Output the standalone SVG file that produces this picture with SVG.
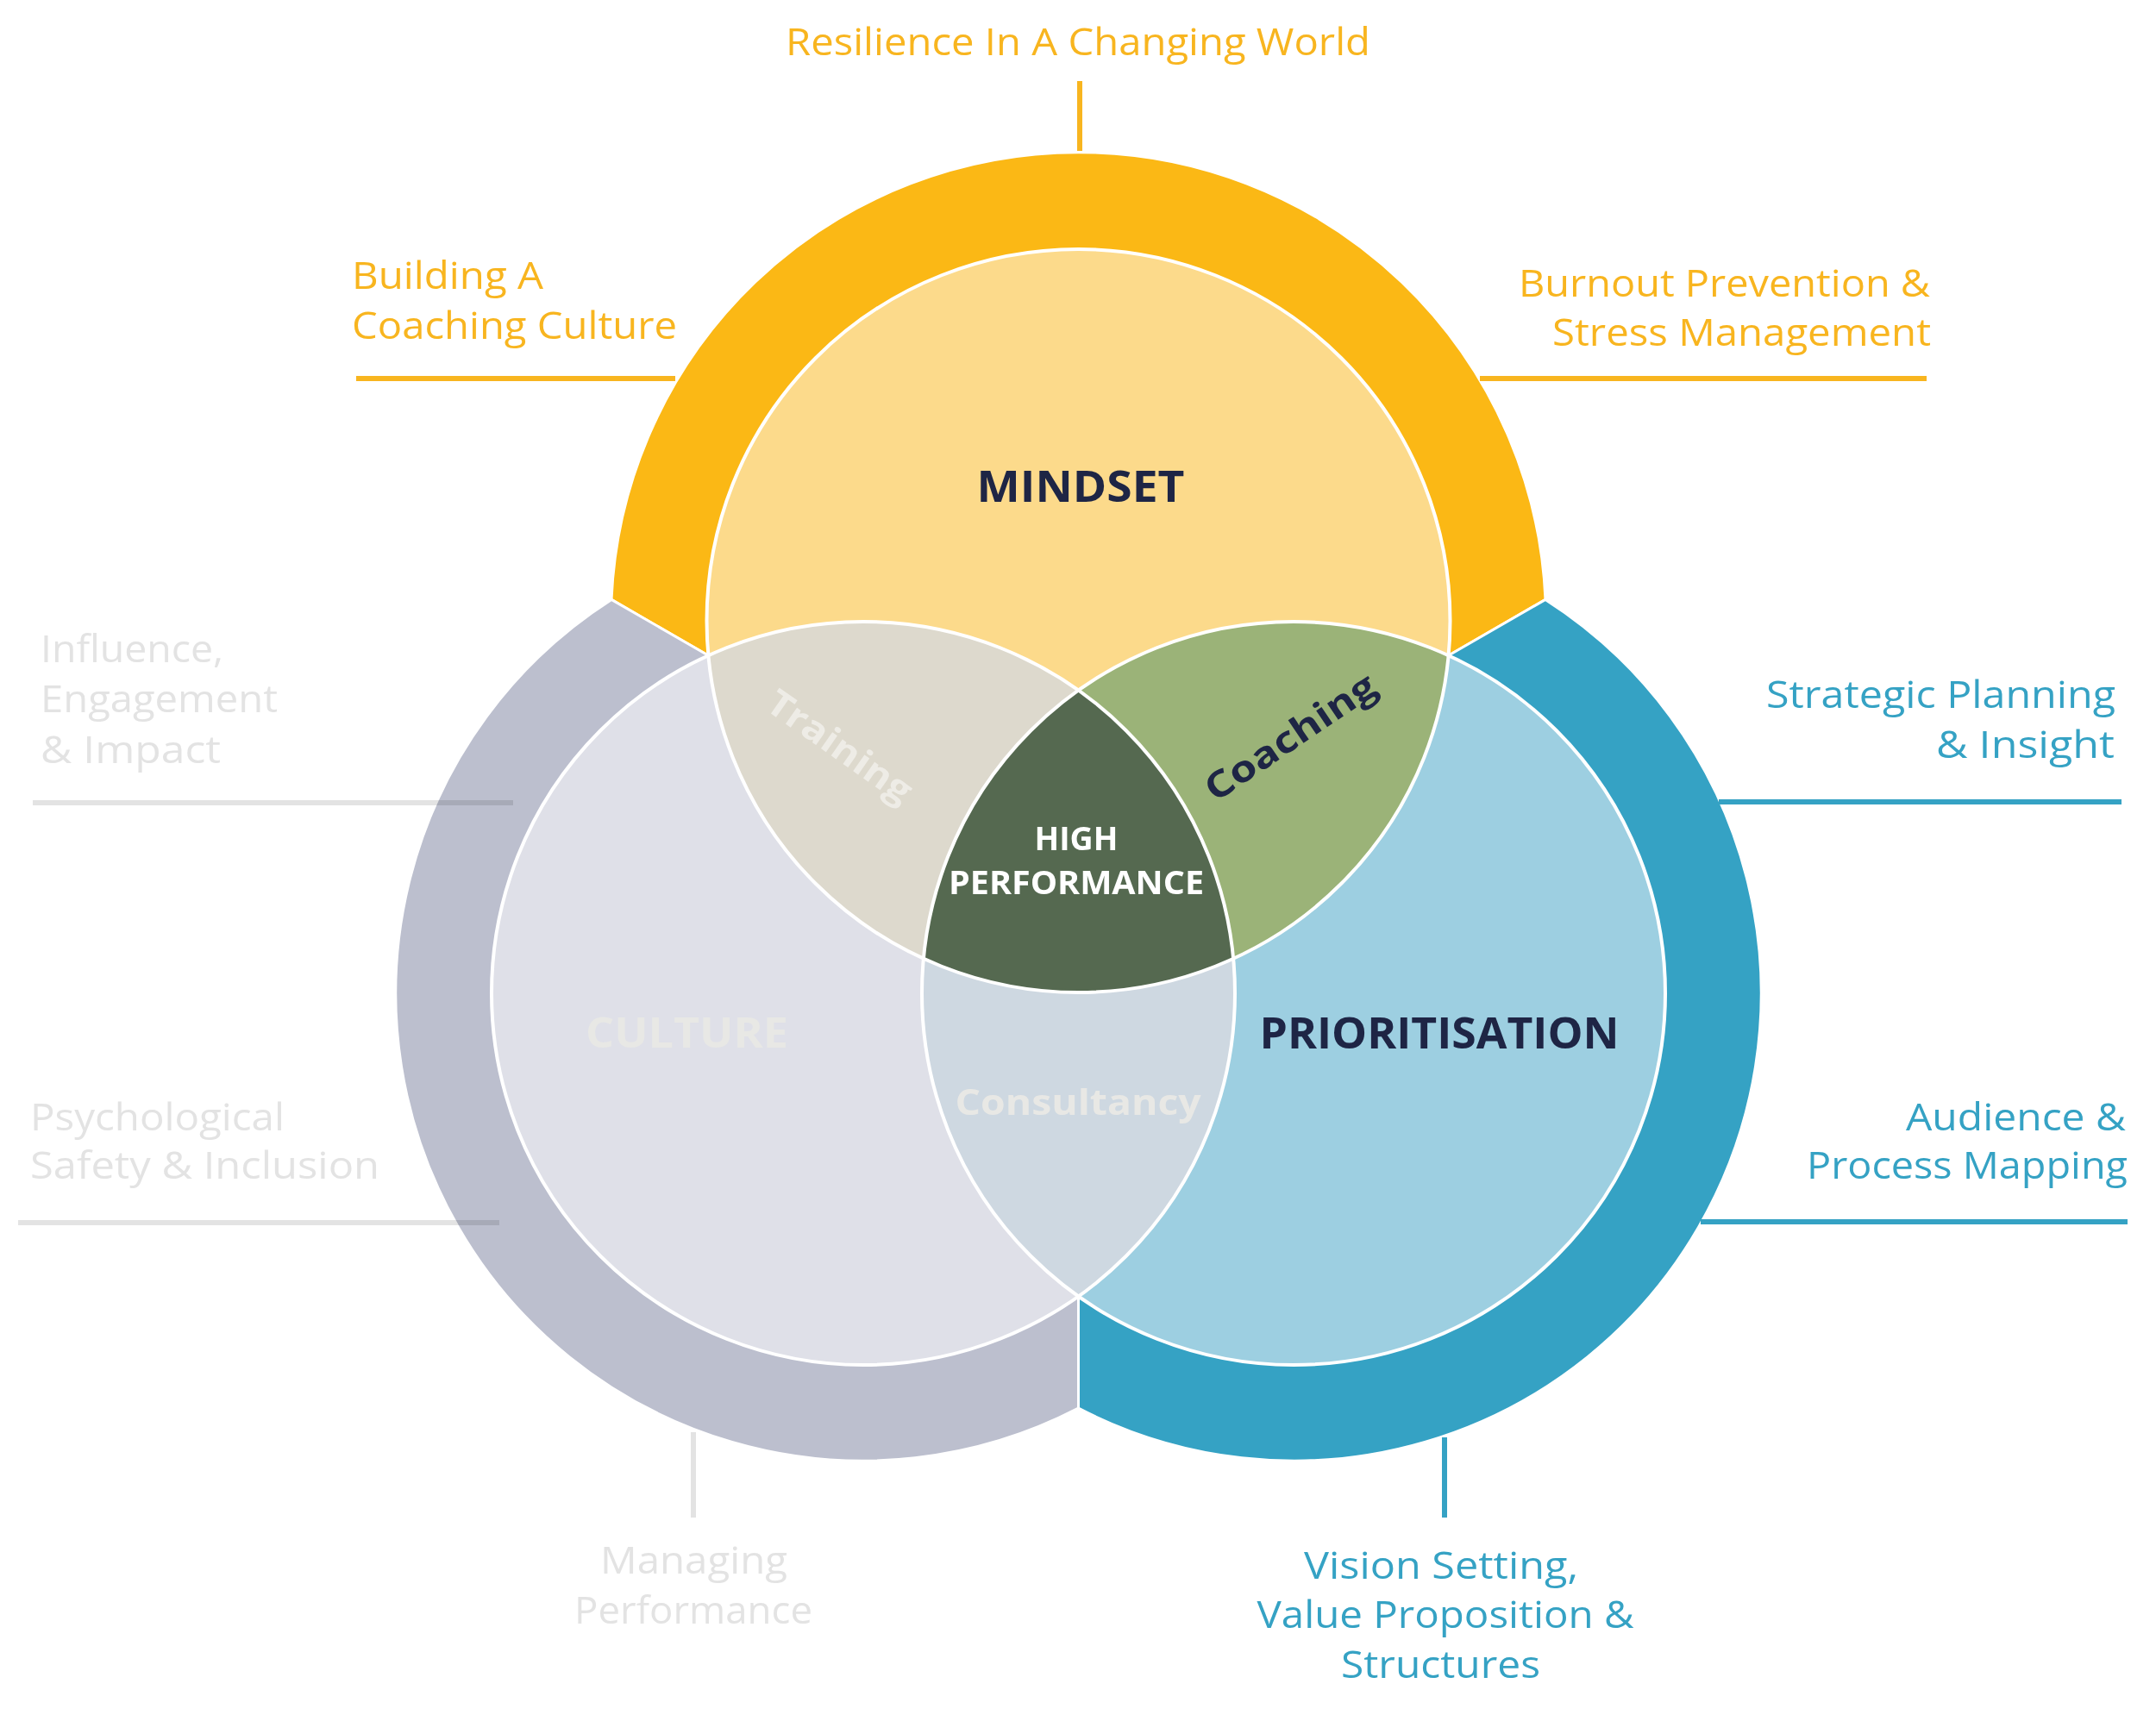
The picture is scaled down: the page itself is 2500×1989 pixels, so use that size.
<svg xmlns="http://www.w3.org/2000/svg" width="2500" height="1989" viewBox="0 0 2500 1989">
  <style>
    .lbl { font-family: "Open Sans", "Liberation Sans", sans-serif; font-size: 44px; font-weight: 400; }
    .or { fill: #F8B51F; }
    .bl { fill: #35A2C4; }
    .gr { fill: #E3E3E3; }
    .big { font-family: "Open Sans", "Liberation Sans", sans-serif; font-weight: 700; }
    .navy { fill: #1E2545; }
    .ring { stroke: #FFFFFF; stroke-width: 3; stroke-linejoin: round; }
    .inner-stroke { fill: none; stroke: #FFFFFF; stroke-width: 4; }
    .ln { stroke-width: 6; fill: none; }
  </style>
  <defs>
    <clipPath id="clipM"><circle cx="1250.5" cy="720" r="431"/></clipPath>
    <clipPath id="clipC"><circle cx="1001" cy="1152" r="431"/></clipPath>
    <clipPath id="clipP"><circle cx="1500" cy="1152" r="431"/></clipPath>
  </defs>
  <rect x="0" y="0" width="2500" height="1989" fill="#FFFFFF"/>

  <!-- outer rings -->
  <g id="ring-mindset">
    <path class="ring" fill="#FBB815" d="M709,695.4 A542,542 0 0 1 1792,695.4 L1679.6,760.2 L1250.5,720 L821.4,760.2 Z"/>
  </g>
  <g id="ring-culture">
    <path class="ring" fill="#BCBFCE" d="M709,695.4 A542,542 0 0 0 1250.5,1633.2 L1250.5,1503.5 L1001,1152 L821.4,760.2 Z"/>
  </g>
  <g id="ring-prioritisation">
    <path class="ring" fill="#35A2C4" d="M1792,695.4 A542,542 0 0 1 1250.5,1633.2 L1250.5,1503.5 L1500,1152 L1679.6,760.2 Z"/>
  </g>

  <!-- connectors -->
  <g id="connectors">
    <line class="ln" stroke="#F8B51F" x1="1252" y1="94" x2="1252" y2="175"/>
    <line class="ln" stroke="#F8B51F" x1="413" y1="439" x2="783" y2="439"/>
    <line class="ln" stroke="#F8B51F" x1="1716" y1="439" x2="2234" y2="439"/>
    <line class="ln" stroke="#35A2C4" x1="1993" y1="930" x2="2460" y2="930"/>
    <line class="ln" stroke="#35A2C4" x1="1972" y1="1417" x2="2467" y2="1417"/>
    <line class="ln" stroke="#35A2C4" x1="1675" y1="1667" x2="1675" y2="1760"/>
    <line class="ln" stroke="#E3E3E3" style="mix-blend-mode:multiply" x1="38" y1="931" x2="595" y2="931"/>
    <line class="ln" stroke="#E3E3E3" style="mix-blend-mode:multiply" x1="21" y1="1418" x2="579" y2="1418"/>
    <line class="ln" stroke="#E3E3E3" x1="804" y1="1661" x2="804" y2="1760"/>
  </g>

  <!-- inner circles -->
  <g id="mindset">
    <circle cx="1250.5" cy="720" r="431" fill="#FCDA8B"/>
  </g>
  <g id="culture">
    <circle cx="1001" cy="1152" r="431" fill="#DFE0E8"/>
  </g>
  <g id="prioritisation">
    <circle cx="1500" cy="1152" r="431" fill="#9DCFE1"/>
  </g>
  <g id="training">
    <circle cx="1001" cy="1152" r="431" fill="#DDD9CD" clip-path="url(#clipM)"/>
  </g>
  <g id="coaching">
    <circle cx="1500" cy="1152" r="431" fill="#9BB378" clip-path="url(#clipM)"/>
  </g>
  <g id="consultancy">
    <circle cx="1500" cy="1152" r="431" fill="#CED8E1" clip-path="url(#clipC)"/>
  </g>
  <g id="high-performance">
    <g clip-path="url(#clipM)">
      <circle cx="1500" cy="1152" r="431" fill="#556950" clip-path="url(#clipC)"/>
    </g>
  </g>
  <g id="circle-outlines">
    <circle class="inner-stroke" cx="1250.5" cy="720" r="431"/>
    <circle class="inner-stroke" cx="1001" cy="1152" r="431"/>
    <circle class="inner-stroke" cx="1500" cy="1152" r="431"/>
  </g>

  <!-- inner labels -->
  <g id="inner-labels">
    <text class="big navy" x="1132.5" y="582" font-size="51" textLength="241" lengthAdjust="spacingAndGlyphs">MINDSET</text>
    <text class="big" fill="#E8E8E5" x="679" y="1215" font-size="48" textLength="235" lengthAdjust="spacingAndGlyphs">CULTURE</text>
    <text class="big navy" x="1460.5" y="1216" font-size="51" textLength="417" lengthAdjust="spacingAndGlyphs">PRIORITISATION</text>
    <text class="big" fill="#E8E8E5" x="1107.6" y="1293" font-size="42" textLength="285" lengthAdjust="spacingAndGlyphs">Consultancy</text>
    <text class="big" fill="#FFFFFF" x="1199.5" y="986" font-size="37" textLength="97" lengthAdjust="spacingAndGlyphs">HIGH</text>
    <text class="big" fill="#FFFFFF" x="1100" y="1037" font-size="37" textLength="296" lengthAdjust="spacingAndGlyphs">PERFORMANCE</text>
    <g transform="translate(973,867) rotate(35)">
      <text class="big" fill="#EEECE6" x="0" y="13" font-size="42" text-anchor="middle" textLength="195" lengthAdjust="spacingAndGlyphs">Training</text>
    </g>
    <g transform="translate(1497,856) rotate(-34)">
      <text class="big navy" x="0" y="13" font-size="42" text-anchor="middle" textLength="230" lengthAdjust="spacingAndGlyphs">Coaching</text>
    </g>
  </g>

  <!-- outer labels -->
  <g id="label-resilience">
    <text class="lbl or" x="911" y="64" textLength="678" lengthAdjust="spacingAndGlyphs">Resilience In A Changing World</text>
  </g>
  <g id="label-coaching-culture">
    <text class="lbl or" x="408" y="335" textLength="222" lengthAdjust="spacingAndGlyphs">Building A</text>
    <text class="lbl or" x="408" y="393" textLength="377" lengthAdjust="spacingAndGlyphs">Coaching Culture</text>
  </g>
  <g id="label-burnout">
    <text class="lbl or" x="1761" y="344" textLength="477" lengthAdjust="spacingAndGlyphs">Burnout Prevention &amp;</text>
    <text class="lbl or" x="1800" y="401" textLength="439" lengthAdjust="spacingAndGlyphs">Stress Management</text>
  </g>
  <g id="label-strategic">
    <text class="lbl bl" x="2048" y="821" textLength="405" lengthAdjust="spacingAndGlyphs">Strategic Planning</text>
    <text class="lbl bl" x="2245" y="879" textLength="207" lengthAdjust="spacingAndGlyphs">&amp; Insight</text>
  </g>
  <g id="label-audience">
    <text class="lbl bl" x="2210" y="1311" textLength="255" lengthAdjust="spacingAndGlyphs">Audience &amp;</text>
    <text class="lbl bl" x="2095" y="1367" textLength="372" lengthAdjust="spacingAndGlyphs">Process Mapping</text>
  </g>
  <g id="label-vision">
    <text class="lbl bl" x="1512" y="1831" textLength="318" lengthAdjust="spacingAndGlyphs">Vision Setting,</text>
    <text class="lbl bl" x="1457.5" y="1888" textLength="437" lengthAdjust="spacingAndGlyphs">Value Proposition &amp;</text>
    <text class="lbl bl" x="1555" y="1946" textLength="231" lengthAdjust="spacingAndGlyphs">Structures</text>
  </g>
  <g id="label-influence">
    <text class="lbl gr" x="47" y="768" textLength="212" lengthAdjust="spacingAndGlyphs">Influence,</text>
    <text class="lbl gr" x="47" y="826" textLength="275" lengthAdjust="spacingAndGlyphs">Engagement</text>
    <text class="lbl gr" x="47" y="885" textLength="209" lengthAdjust="spacingAndGlyphs">&amp; Impact</text>
  </g>
  <g id="label-psychological">
    <text class="lbl gr" x="35" y="1311" textLength="295" lengthAdjust="spacingAndGlyphs">Psychological</text>
    <text class="lbl gr" x="35" y="1367" textLength="405" lengthAdjust="spacingAndGlyphs">Safety &amp; Inclusion</text>
  </g>
  <g id="label-managing">
    <text class="lbl gr" x="696" y="1825" textLength="217" lengthAdjust="spacingAndGlyphs">Managing</text>
    <text class="lbl gr" x="666" y="1883" textLength="276" lengthAdjust="spacingAndGlyphs">Performance</text>
  </g>
</svg>
